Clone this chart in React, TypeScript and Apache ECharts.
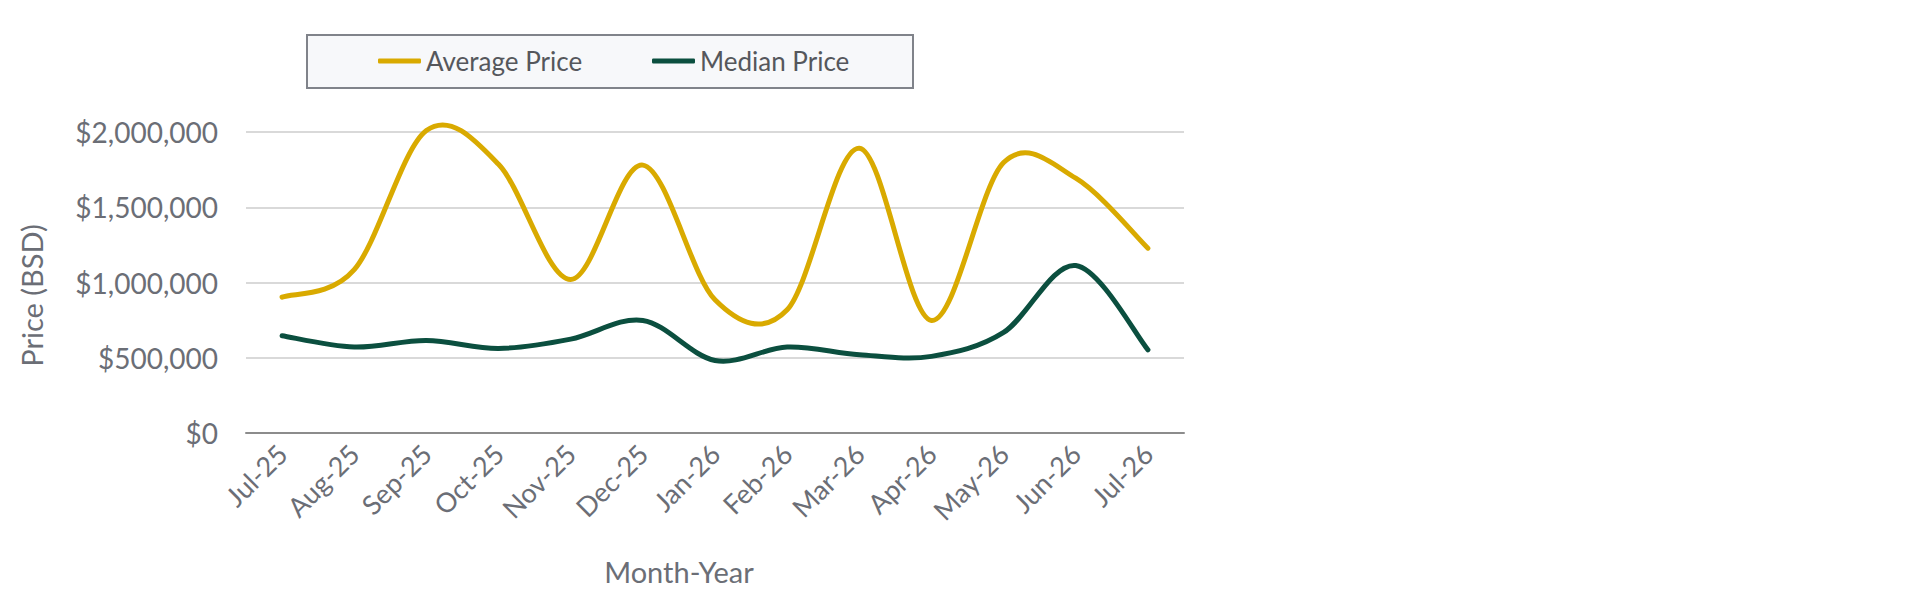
import React, { useEffect, useRef } from "react";
import * as echarts from "echarts";

const categories = [
  "Jul-25", "Aug-25", "Sep-25", "Oct-25", "Nov-25", "Dec-25", "Jan-26",
  "Feb-26", "Mar-26", "Apr-26", "May-26", "Jun-26", "Jul-26",
];
const averagePrice = [
  903000, 1085000, 2010000, 1785000, 1020000, 1780000, 885000,
  819000, 1892000, 748000, 1797000, 1693000, 1228000,
];
const medianPrice = [
  646000, 571000, 615000, 562000, 624000, 748000, 482000,
  571000, 520000, 509000, 668000, 1113000, 553000,
];
const yTicks = { min: 0, max: 2000000, interval: 500000 };

const FONT = "Lato, 'Open Sans', sans-serif";
const TEXT = "#6b6e76";
const GOLD = "#d9aa00";
const GREEN = "#0b4f3f";

function fmt(v: number) {
  return "$" + v.toLocaleString("en-US");
}

// Catmull-Rom style smoothing (as spreadsheet smoothed lines)
function smoothPath(p: number[][]) {
  let d = `M${p[0][0]},${p[0][1]}`;
  for (let i = 0; i < p.length - 1; i++) {
    const p0 = p[i - 1] || p[i];
    const p1 = p[i];
    const p2 = p[i + 1];
    const p3 = p[i + 2] || p[i + 1];
    const c1x = p1[0] + (p2[0] - p0[0]) / 6;
    const c1y = p1[1] + (p2[1] - p0[1]) / 6;
    const c2x = p2[0] - (p3[0] - p1[0]) / 6;
    const c2y = p2[1] - (p3[1] - p1[1]) / 6;
    d += ` C${c1x},${c1y} ${c2x},${c2y} ${p2[0]},${p2[1]}`;
  }
  return d;
}

function curveSeries(name: string, values: number[], color: string) {
  return {
    name,
    type: "custom",
    data: values.map((v, i) => [i, v]),
    encode: { x: 0, y: 1 },
    itemStyle: { color },
    z: 3,
    silent: true,
    renderItem: (params: any, api: any) => {
      if (params.dataIndex !== 0) return null;
      const pts = values.map((v, i) => api.coord([i, v]));
      return {
        type: "path",
        shape: { pathData: smoothPath(pts) },
        style: { stroke: color, lineWidth: 5, fill: "none", lineCap: "round", lineJoin: "round" },
      };
    },
  };
}

export default function App() {
  const ref = useRef<HTMLDivElement>(null);
  useEffect(() => {
    if (!ref.current) return;
    const chart = echarts.init(ref.current, null, { renderer: "svg" });
    const legendText = { color: "#55575c", fontSize: 26, fontFamily: FONT, lineHeight: 30 };
    chart.setOption({
      animation: false,
      backgroundColor: "#ffffff",
      graphic: [
        {
          type: "rect",
          z: 0,
          shape: { x: 307, y: 35, width: 606, height: 53 },
          style: { fill: "#f7f8fa", stroke: "#80838a", lineWidth: 2 },
        },
      ],
      legend: [
        {
          data: [{ name: "Average Price", itemStyle: { color: GOLD } }],
          left: 378,
          top: 46,
          padding: 0,
          z: 10,
          icon: "roundRect",
          itemWidth: 43,
          itemHeight: 5,
          textStyle: legendText,
        },
        {
          data: [{ name: "Median Price", itemStyle: { color: GREEN } }],
          left: 652,
          top: 46,
          padding: 0,
          z: 10,
          icon: "roundRect",
          itemWidth: 43,
          itemHeight: 5,
          textStyle: legendText,
        },
      ],
      grid: { left: 246, right: 736, top: 132, bottom: 172, containLabel: false },
      xAxis: {
        type: "category",
        data: categories,
        boundaryGap: true,
        name: "Month-Year",
        nameLocation: "middle",
        nameGap: 124,
        nameTextStyle: { color: TEXT, fontSize: 29, fontFamily: FONT, padding: [0, 72, 0, 0] },
        axisLine: { lineStyle: { color: "#8c8c8c", width: 2 } },
        axisTick: { alignWithLabel: true, length: 6, lineStyle: { color: "#8c8c8c", width: 2 } },
        axisLabel: { rotate: 45, margin: 16, color: TEXT, fontSize: 27, fontFamily: FONT, interval: 0 },
        splitLine: { show: false },
      },
      yAxis: {
        type: "value",
        min: yTicks.min,
        max: yTicks.max,
        interval: yTicks.interval,
        name: "Price (BSD)",
        nameLocation: "middle",
        nameGap: 200,
        nameRotate: 90,
        nameTextStyle: { color: TEXT, fontSize: 29, fontFamily: FONT, padding: [0, 26, 0, 0] },
        axisLine: { show: false },
        axisTick: { show: false },
        axisLabel: { margin: 28, color: TEXT, fontSize: 28, fontFamily: FONT, formatter: (v: number) => fmt(v) },
        splitLine: { lineStyle: { color: "#d9d9d9", width: 2 } },
      },
      series: [
        curveSeries("Average Price", averagePrice, GOLD),
        curveSeries("Median Price", medianPrice, GREEN),
      ],
    });
    return () => chart.dispose();
  }, []);
  return (
    <div
      ref={ref}
      style={{ position: "fixed", left: 0, top: 0, width: 1920, height: 605, background: "#fff" }}
    />
  );
}
